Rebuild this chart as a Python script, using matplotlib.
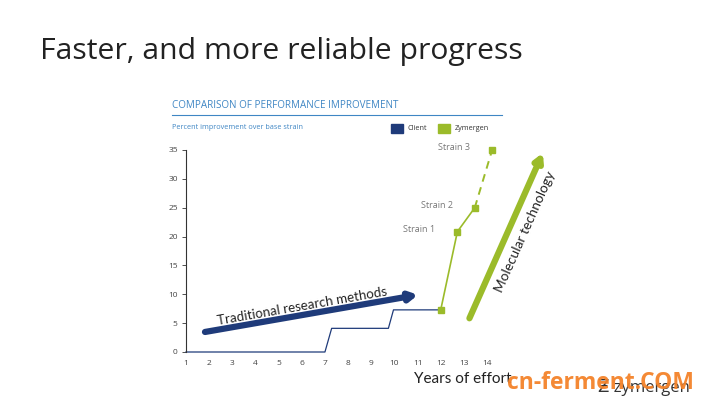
import matplotlib
matplotlib.use('Agg')
import matplotlib.pyplot as plt

plt.rcParams['font.family'] = ['Open Sans', 'DejaVu Sans']

# data
client_x = [1, 7, 7.29, 9.74, 9.96, 12]
client_y = [0, 0, 4.1, 4.1, 7.3, 7.3]
zym_x = [12, 12.72, 13.47]
zym_y = [7.3, 20.85, 25.0]
zym_dash_x = [13.47, 14.22]
zym_dash_y = [25.0, 35.0]
strain_labels = ['Strain 1', 'Strain 2', 'Strain 3']
strain_x = [12.72, 13.47, 14.22]
strain_y = [20.85, 25.0, 35.0]
xticks = list(range(1, 15))
yticks = [0, 5, 10, 15, 20, 25, 30, 35]

navy = '#1f3b7a'
green = '#9bbb2a'
blue_txt = '#3f86c4'
grey = '#777777'

fig = plt.figure(figsize=(7.10, 4.07), dpi=100)
fig.patch.set_facecolor('white')

fig.text(40/710, 1 - 52/407, 'Faster, and more reliable progress', fontsize=21.7,
         color='#222222', va='center', ha='left')
fig.text(172/710, 1 - 106/407, 'COMPARISON OF PERFORMANCE IMPROVEMENT', fontsize=7.1,
         color=blue_txt, va='center', ha='left')
fig.add_artist(plt.Line2D([172/710, 502/710], [1 - 115/407, 1 - 115/407],
                          color=blue_txt, lw=0.8))
fig.text(172/710, 1 - 127/407, 'Percent improvement over base strain', fontsize=5.2,
         color=blue_txt, va='center', ha='left')

# legend
fig.patches.append(plt.Rectangle((391/710, 1 - 133/407), 12/710, 9/407,
                                 color=navy, transform=fig.transFigure))
fig.text(408/710, 1 - 129/407, 'Client', fontsize=5.2, color='#333333', va='center')
fig.patches.append(plt.Rectangle((438/710, 1 - 133/407), 12/710, 9/407,
                                 color=green, transform=fig.transFigure))
fig.text(455/710, 1 - 129/407, 'Zymergen', fontsize=5.2, color='#333333', va='center')

ax = fig.add_axes([186/710, 55/407, 370.5/710, 202/407])
ax.set_xlim(1, 17)
ax.set_ylim(0, 35)
for s in ['top', 'right', 'bottom']:
    ax.spines[s].set_visible(False)
ax.spines['left'].set_color('#333333')
ax.spines['left'].set_linewidth(0.8)
ax.set_xticks(xticks)
ax.set_yticks(yticks)
ax.tick_params(axis='x', length=0, labelsize=6, colors='#444444', pad=6)
ax.tick_params(axis='y', length=3, width=0.6, labelsize=6, colors='#444444', pad=3)
ax.tick_params(axis='y', color='#333333')
ax.patch.set_alpha(0)

ax.plot(client_x, client_y, color=navy, lw=0.9, clip_on=False)
ax.plot(zym_x, zym_y, color=green, lw=1.2, marker='s', ms=4.5, clip_on=False)
ax.plot(zym_dash_x, zym_dash_y, color=green, lw=1.4, ls=(0, (4, 3)), clip_on=False)
ax.plot(zym_dash_x[-1:], zym_dash_y[-1:], color=green, marker='s', ms=4.5, clip_on=False)

for lab, sx, sy in zip(strain_labels, strain_x, strain_y):
    ax.annotate(lab, (sx, sy), xytext=(-16, 1.5), textcoords='offset points',
                ha='right', va='center', fontsize=6.5, color=grey, annotation_clip=False)

# big arrows
ax.annotate('', xy=(11.02, 9.9), xytext=(1.82, 3.47),
            arrowprops=dict(arrowstyle='-|>,head_length=0.45,head_width=0.25',
                            color=navy, lw=4.5, shrinkA=0, shrinkB=0),
            annotation_clip=False)
ax.text(6.0, 7.9, 'Traditional research methods', rotation=9.9, rotation_mode='anchor',
        ha='center', va='center', fontsize=9.6, color='#222222', family=['Lato', 'DejaVu Sans'])
ax.annotate('', xy=(16.41, 34.5), xytext=(13.24, 5.84),
            arrowprops=dict(arrowstyle='-|>,head_length=0.45,head_width=0.25',
                            color=green, lw=4.5, shrinkA=0, shrinkB=0),
            annotation_clip=False)
ax.text(15.65, 20.8, 'Molecular technology', rotation=66, rotation_mode='anchor',
        ha='center', va='center', fontsize=9.8, color='#222222', family=['Lato', 'DejaVu Sans'])

fig.text(463/710, 1 - 379/407, 'Years of effort', fontsize=11, color='#222222',
         ha='center', va='center', family=['Lato', 'DejaVu Sans'])

# logo and watermark
fig.text(598/710, 1 - 388/407, 'Ƶ zymergen', fontsize=12, color='#333333',
         ha='left', va='center')
fig.text(600/710, 1 - 383/407, 'cn-ferment.COM', fontsize=16.5, color='#f4832a',
         fontweight='bold', ha='center', va='center', alpha=0.95)

fig.savefig('out.png', dpi=100)
